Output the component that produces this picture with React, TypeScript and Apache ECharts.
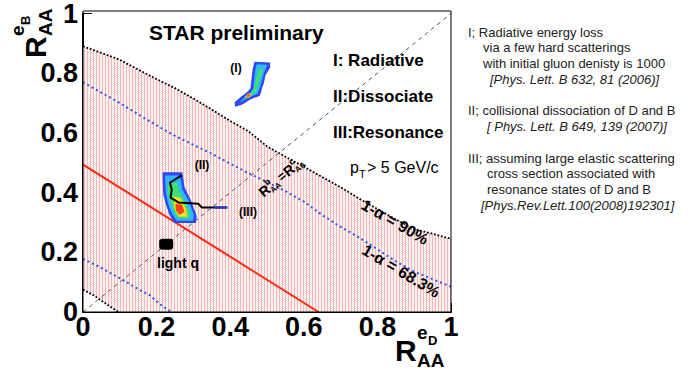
import React, { useEffect, useRef } from "react";
import * as echarts from "echarts";

// ---------- data ----------
const TICKS = [0, 0.2, 0.4, 0.6, 0.8, 1];

const curveX = [0, 0.05, 0.1, 0.15, 0.2, 0.25, 0.3, 0.35, 0.4, 0.45, 0.5, 0.55, 0.6, 0.65, 0.7, 0.75, 0.8, 0.85, 0.9, 0.95, 1];
const upper90 = [0.89, 0.868, 0.845, 0.812, 0.78, 0.75, 0.715, 0.678, 0.64, 0.605, 0.555, 0.52, 0.487, 0.452, 0.418, 0.38, 0.345, 0.31, 0.278, 0.262, 0.245];
const upper68 = [0.77, 0.735, 0.7, 0.662, 0.625, 0.59, 0.56, 0.53, 0.497, 0.465, 0.435, 0.405, 0.37, 0.325, 0.285, 0.25, 0.21, 0.17, 0.135, 0.11, 0.085];

const lower90X = [0, 0.03, 0.06, 0.096];
const lower90Y = [0.075, 0.055, 0.03, 0];
const lower68X = [0, 0.05, 0.11, 0.155, 0.182, 0.205, 0.225, 0.241];
const lower68Y = [0.178, 0.148, 0.106, 0.073, 0.056, 0.03, 0.012, 0];

const redX = [0, 0.64];
const redY = [0.494, 0];
const diagX = [0, 1];
const diagY = [0, 1];

const lineIIIX = [0.268, 0.236, 0.241, 0.238, 0.259, 0.313, 0.323, 0.392];
const lineIIIY = [0.458, 0.433, 0.411, 0.383, 0.367, 0.363, 0.35, 0.35];
const lineIIITailX = [0.355, 0.392];
const lineIIITailY = [0.35, 0.35];

const lightQ = [[0.226, 0.227]];

const blobI_blue = [[0.466, 0.838], [0.508, 0.836], [0.509, 0.82], [0.496, 0.793], [0.491, 0.765], [0.487, 0.752], [0.484, 0.736], [0.48, 0.724], [0.456, 0.713], [0.432, 0.694], [0.413, 0.688], [0.412, 0.703], [0.43, 0.722], [0.447, 0.738], [0.455, 0.75], [0.458, 0.782], [0.461, 0.815]];
const blobI_cyan = [[0.472, 0.83], [0.501, 0.828], [0.49, 0.795], [0.484, 0.765], [0.479, 0.745], [0.474, 0.731], [0.452, 0.72], [0.424, 0.699], [0.437, 0.716], [0.454, 0.733], [0.463, 0.748], [0.465, 0.78], [0.468, 0.81]];
const blobI_green = [[0.477, 0.817], [0.49, 0.812], [0.48, 0.78], [0.474, 0.755], [0.47, 0.736], [0.45, 0.724], [0.435, 0.714], [0.45, 0.72], [0.461, 0.742], [0.469, 0.768]];
const blobI_yellow = [[0.439, 0.72], [0.45, 0.733], [0.46, 0.728], [0.452, 0.718]];
const blobI_red = [[0.443, 0.723], [0.451, 0.73], [0.456, 0.726], [0.449, 0.72]];

const blobII_blue = [[0.216, 0.468], [0.27, 0.468], [0.276, 0.418], [0.294, 0.372], [0.309, 0.322], [0.307, 0.298], [0.248, 0.298], [0.234, 0.328], [0.225, 0.361], [0.218, 0.394]];
const blobII_cyan = [[0.223, 0.457], [0.263, 0.457], [0.27, 0.41], [0.288, 0.37], [0.301, 0.325], [0.299, 0.306], [0.254, 0.306], [0.24, 0.333], [0.231, 0.365], [0.225, 0.4]];
const blobII_green = [[0.231, 0.432], [0.256, 0.432], [0.263, 0.4], [0.28, 0.365], [0.291, 0.33], [0.288, 0.314], [0.259, 0.314], [0.245, 0.34], [0.237, 0.37], [0.231, 0.4]];
const blobII_yellow = [[0.244, 0.387], [0.266, 0.382], [0.28, 0.345], [0.283, 0.319], [0.261, 0.319], [0.249, 0.345]];
const blobII_red = [[0.251, 0.362], [0.269, 0.36], [0.276, 0.335], [0.262, 0.326], [0.253, 0.34]];

const notes = [
  "I; Radiative energy loss",
  "via a few hard scatterings",
  "with initial gluon denisty is 1000",
  "[Phys. Lett. B 632, 81 (2006)]",
  "II; collisional dissociation of D and B",
  "[ Phys. Lett. B 649, 139 (2007)]",
  "III; assuming large elastic scattering",
  "cross section associated with",
  "resonance states of D and B",
  "[Phys.Rev.Lett.100(2008)192301]",
];

// ---------- helpers ----------
const FONT = '"Liberation Sans", Arial, Helvetica, sans-serif';
const zip = (xs: number[], ys: number[]) => xs.map((x, i) => [x, ys[i]]);

function txt(text: string, x: number, y: number, font: string, opts: any = {}) {
  return {
    type: "text",
    x,
    y,
    rotation: opts.rotation || 0,
    z: 50,
    style: {
      text,
      font,
      fill: opts.fill || "#000",
      textAlign: opts.align || "left",
      align: opts.align || "left",
      textVerticalAlign: "middle",
      verticalAlign: "middle",
    },
  };
}

function polySeries(poly: number[][], fill: string, z: number) {
  return {
    type: "custom",
    z,
    silent: true,
    data: [poly[0]],
    renderItem: (_p: any, api: any) => ({
      type: "polygon",
      shape: { points: poly.map((pt) => api.coord(pt)) },
      style: { fill, stroke: null },
    }),
  };
}

function axisTitle(sub: string, ox: number, oy: number, rotation: number) {
  const b = (s: number) => `bold ${s}px ${FONT}`;
  return {
    type: "group",
    x: ox,
    y: oy,
    rotation,
    z: 50,
    children: [
      txt("R", 0, 0, b(30)),
      txt("e", 22, -18, b(19)),
      txt(sub, 33, -10, b(13)),
      txt("AA", 22, 10, b(19)),
    ],
  };
}

function diagLabel() {
  const b = (s: number) => `bold ${s}px ${FONT}`;
  return {
    type: "group",
    x: 282,
    y: 176,
    rotation: (40 * Math.PI) / 180,
    z: 50,
    children: [
      txt("R", -28, 0, b(14)),
      txt("b", -18, -5, b(9)),
      txt("AA", -18, 5, b(8)),
      txt("=", -4, 0, b(13)),
      txt("R", 4, 0, b(14)),
      txt("c", 14, -5, b(9)),
      txt("AA", 14, 5, b(8)),
    ],
  };
}

export default function App() {
  const ref = useRef<HTMLDivElement>(null);

  useEffect(() => {
    if (!ref.current) return;
    const chart = echarts.init(ref.current, null, { renderer: "svg" });

    // hatch pattern
    const cv = document.createElement("canvas");
    cv.width = 3;
    cv.height = 2;
    const ctx = cv.getContext("2d")!;
    ctx.fillStyle = "#ffffff";
    ctx.fillRect(0, 0, 3, 2);
    ctx.fillStyle = "#f1b6b6";
    ctx.fillRect(0, 0, 1, 2);
    ctx.fillStyle = "#fbe2e2";
    ctx.fillRect(1, 0, 1, 1);
    ctx.fillRect(2, 1, 1, 1);

    const labelStyle = {
      fontFamily: FONT,
      fontWeight: "bold",
      fontSize: 27,
      color: "#000",
    };

    const nf = `13px ${FONT}`;
    const nfi = `italic 13px ${FONT}`;
    const noteTexts = [
      txt(notes[0], 468, 32, nf, { fill: "#222" }),
      txt(notes[1], 483, 47.5, nf, { fill: "#222" }),
      txt(notes[2], 483, 63, nf, { fill: "#222" }),
      txt(notes[3], 490, 79, nfi, { fill: "#222" }),
      txt(notes[4], 468, 110, nf, { fill: "#222" }),
      txt(notes[5], 487, 126, nfi, { fill: "#222" }),
      txt(notes[6], 468, 158, nf, { fill: "#222" }),
      txt(notes[7], 487, 173.5, nf, { fill: "#222" }),
      txt(notes[8], 487, 189, nf, { fill: "#222" }),
      txt(notes[9], 481, 205, nfi, { fill: "#222" }),
    ];

    const option: any = {
      animation: false,
      backgroundColor: "#fff",
      grid: { left: 83, right: 241, top: 11, bottom: 58, show: false },
      xAxis: {
        type: "value",
        min: TICKS[0],
        max: TICKS[TICKS.length - 1],
        interval: 0.2,
        axisLine: { show: true, lineStyle: { color: "#000", width: 2 } },
        axisTick: { show: true, inside: true, length: 9, lineStyle: { color: "#000", width: 1 } },
        splitLine: { show: false },
        axisLabel: { ...labelStyle, margin: 1 },
      },
      yAxis: {
        type: "value",
        min: TICKS[0],
        max: TICKS[TICKS.length - 1],
        interval: 0.2,
        axisLine: { show: true, lineStyle: { color: "#000", width: 2 } },
        axisTick: { show: true, inside: true, length: 9, lineStyle: { color: "#000", width: 1 } },
        splitLine: { show: false },
        axisLabel: { ...labelStyle, margin: 5 },
      },
      series: [
        {
          type: "line",
          z: 1,
          data: zip(curveX, upper90),
          showSymbol: false,
          silent: true,
          lineStyle: { color: "#000", width: 1.8, type: "dotted" },
          areaStyle: { color: { image: cv, repeat: "repeat" }, opacity: 1 },
        },
        {
          type: "line",
          z: 2,
          data: zip(lower90X, lower90Y),
          showSymbol: false,
          silent: true,
          lineStyle: { color: "#000", width: 1.8, type: "dotted" },
          areaStyle: { color: "#fff", opacity: 1 },
        },
        {
          type: "line",
          z: 3,
          data: zip(diagX, diagY),
          showSymbol: false,
          silent: true,
          lineStyle: { color: "#555", width: 1, type: [4, 4] },
        },
        {
          type: "line",
          z: 3,
          data: zip(curveX, upper68),
          showSymbol: false,
          silent: true,
          lineStyle: { color: "#2a55e8", width: 2, type: [2, 3] },
        },
        {
          type: "line",
          z: 3,
          data: zip(lower68X, lower68Y),
          showSymbol: false,
          silent: true,
          lineStyle: { color: "#2a55e8", width: 2, type: [2, 3] },
        },
        {
          type: "line",
          z: 3,
          data: zip(redX, redY),
          showSymbol: false,
          silent: true,
          lineStyle: { color: "#ff2a10", width: 2 },
        },
        polySeries(blobI_blue, "#3048f0", 4),
        polySeries(blobI_cyan, "#30b8ff", 4),
        polySeries(blobI_green, "#40e070", 4),
        polySeries(blobI_yellow, "#f0e020", 4),
        polySeries(blobI_red, "#ff4010", 4),
        polySeries(blobII_blue, "#3048f0", 4),
        polySeries(blobII_cyan, "#30b8ff", 4),
        polySeries(blobII_green, "#40e070", 4),
        polySeries(blobII_yellow, "#f0e020", 4),
        polySeries(blobII_red, "#ff4010", 4),
        {
          type: "line",
          z: 5,
          data: zip(lineIIIX, lineIIIY),
          showSymbol: false,
          silent: true,
          lineStyle: { color: "#000", width: 2 },
        },
        {
          type: "line",
          z: 5,
          data: zip(lineIIITailX, lineIIITailY),
          showSymbol: false,
          silent: true,
          lineStyle: { color: "#1838d0", width: 2 },
        },
        {
          type: "scatter",
          z: 5,
          data: lightQ,
          symbol: "roundRect",
          symbolSize: [14, 11],
          itemStyle: { color: "#000", opacity: 1 },
          silent: true,
        },
      ],
      graphic: [
        {
          type: "rect",
          z: 100,
          shape: { x: 83, y: 11, width: 368, height: 301 },
          style: { fill: "none", stroke: "#000", lineWidth: 1 },
          silent: true,
        },
        txt("STAR preliminary", 149, 32, `bold 21px ${FONT}`),
        txt("(I)", 236, 68, `bold 12px ${FONT}`, { align: "center" }),
        txt("I: Radiative", 333, 60, `bold 17px ${FONT}`),
        txt("II:Dissociate", 333, 96, `bold 17px ${FONT}`),
        txt("III:Resonance", 333, 132, `bold 17px ${FONT}`),
        txt("p", 350, 167, `16px ${FONT}`),
        txt("T", 359, 174, `11px ${FONT}`),
        txt("> 5 GeV/c", 367, 167, `16px ${FONT}`),
        txt("(II)", 202, 165, `bold 12px ${FONT}`, { align: "center" }),
        txt("(III)", 248, 212, `bold 12px ${FONT}`, { align: "center" }),
        txt("light q", 178, 263, `bold 14px ${FONT}`, { align: "center" }),
        txt("1-\u03b1 = 90%", 395, 222, `bold 16px ${FONT}`, { align: "center", rotation: (-30 * Math.PI) / 180 }),
        txt("1-\u03b1 = 68.3%", 401, 271, `bold 16px ${FONT}`, { align: "center", rotation: (-31 * Math.PI) / 180 }),
        diagLabel(),
        axisTitle("D", 395, 350, 0),
        axisTitle("B", 35, 58, Math.PI / 2),
        ...noteTexts,
      ],
    };

    chart.setOption(option);
    return () => chart.dispose();
  }, []);

  return (
    <div
      ref={ref}
      style={{ position: "fixed", left: 0, top: 0, width: 692, height: 370 }}
    />
  );
}
